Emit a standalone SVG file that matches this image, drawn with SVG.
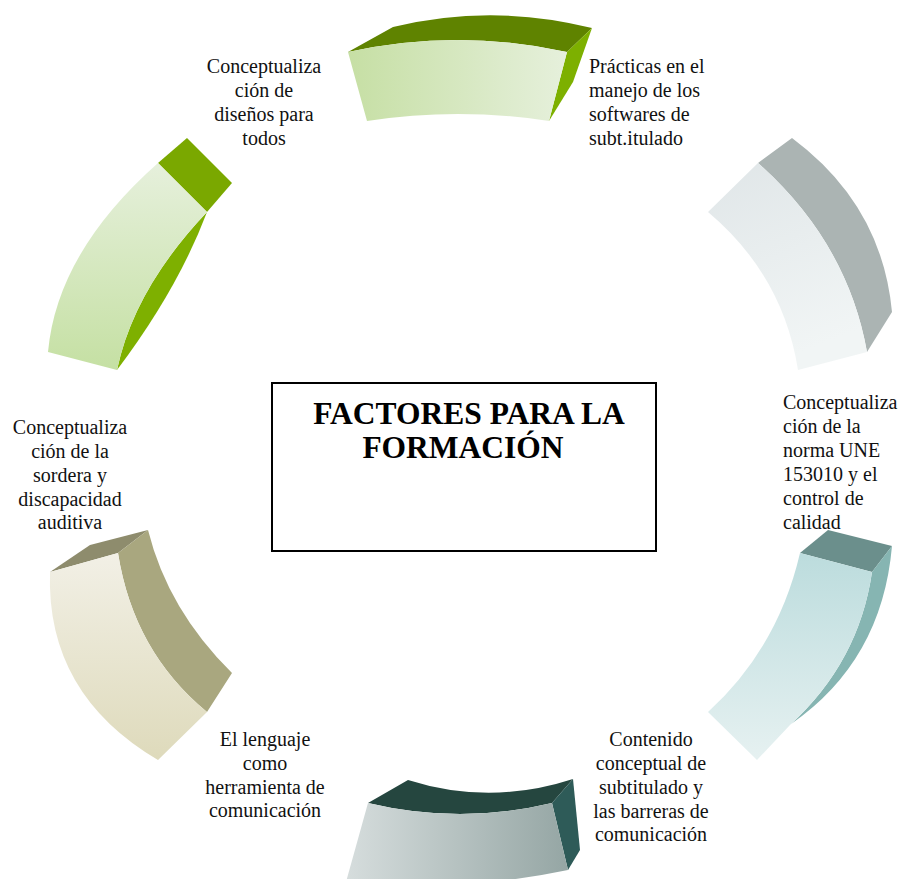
<svg xmlns="http://www.w3.org/2000/svg" width="903" height="879" viewBox="0 0 903 879">
<defs>
<style>
.lbl{font-family:"Liberation Serif","Times New Roman",serif;font-size:20px;fill:#111}
.c{text-anchor:middle}
.title{font-family:"Liberation Serif","Times New Roman",serif;font-size:31.5px;font-weight:bold;fill:#000;text-anchor:middle}
</style>
<linearGradient id="g1" x1="0" y1="0" x2="1" y2="0"><stop offset="0" stop-color="#c6dfa4"/><stop offset="1" stop-color="#e6f0dc"/></linearGradient>
<linearGradient id="g2" x1="0" y1="0" x2="0.3" y2="1"><stop offset="0" stop-color="#e0e6e8"/><stop offset="1" stop-color="#f1f5f5"/></linearGradient>
<linearGradient id="g3" x1="0" y1="0" x2="0" y2="1"><stop offset="0" stop-color="#bcdcdd"/><stop offset="1" stop-color="#e6f1f1"/></linearGradient>
<linearGradient id="g4" x1="0" y1="0" x2="1" y2="0"><stop offset="0" stop-color="#d6dddd"/><stop offset="1" stop-color="#95a6a4"/></linearGradient>
<linearGradient id="g5" x1="0" y1="0" x2="0" y2="1"><stop offset="0" stop-color="#f2f0e6"/><stop offset="1" stop-color="#dedabb"/></linearGradient>
<linearGradient id="g6" x1="0" y1="0" x2="0" y2="1"><stop offset="0" stop-color="#e6f0dc"/><stop offset="1" stop-color="#c5e0a3"/></linearGradient>
</defs>
<rect width="903" height="879" fill="#fff"/>

<g id="seg1">
<path d="M348,52 L393,27 Q492,3 592,28 L567,52 Q457,28 348,52 Z" fill="#5f8300"/>
<path d="M567,52 L592,28 L573,82 L549,121 Z" fill="#7db000"/>
<path d="M348,52 Q457,28 567,52 L549,121 Q458,107 367,121 Z" fill="url(#g1)"/>
</g>

<g id="seg2">
<path d="M758,163 L792,138 Q882,205 892,312 L867,352 Q847.5,242.5 758,163 Z" fill="#abb4b3"/>
<path d="M708,212 L758,163 Q847.5,242.5 867,352 L798,370 Q783,275 708,212 Z" fill="url(#g2)"/>
</g>

<g id="seg3">
<path d="M800,553 L828,530 L892,546 L872,572 Z" fill="#6b8f8c"/>
<path d="M872,572 L892,546 Q882,661 791,724 L790,725 Q859,662 872,572 Z" fill="#86b5b2"/>
<path d="M800,553 L872,572 Q859,662 790,725 L757,760 L708,712 Q778,648 800,553 Z" fill="url(#g3)"/>
</g>

<g id="seg4">
<path d="M368,803 L408,780 Q490,806 573,779 L552,803 Q460,825 368,803 Z" fill="#25463f"/>
<path d="M552,803 L573,779 L580,850 L568,870 Z" fill="#2e5b58"/>
<path d="M368,803 Q460,825 552,803 L568,870 Q458,893 346,882 Z" fill="url(#g4)"/>
</g>

<g id="seg5">
<path d="M50,572 L90,545 L148,530 L118,553 Z" fill="#8e8c6d"/>
<path d="M118,553 L148,530 Q168,610 232,673 L207,712 Q133.5,651.5 118,553 Z" fill="#a9a77f"/>
<path d="M50,572 L118,553 Q133.5,651.5 207,712 L158,760 Q46,694 50,572 Z" fill="url(#g5)"/>
</g>

<g id="seg6">
<path d="M158,163 L187,138 L232,183 L207,212 Z" fill="#7aa800"/>
<path d="M207,212 Q178,289 117,370 Q134,289 207,212 Z" fill="#7eb000"/>
<path d="M158,163 L207,212 Q134,289 117,370 L48,352 Q57,252.5 158,163 Z" fill="url(#g6)"/>
</g>

<g id="center">
<rect x="272" y="383" width="384" height="168" fill="#fff" stroke="#000" stroke-width="2"/>
<text class="title" x="469" y="424">FACTORES PARA LA</text>
<text class="title" x="463" y="458">FORMACIÓN</text>
</g>

<g id="label1">
<text class="lbl c" x="264" y="73">Conceptualiza</text>
<text class="lbl c" x="264" y="97">ción de</text>
<text class="lbl c" x="264" y="121">diseños para</text>
<text class="lbl c" x="264" y="145">todos</text>
</g>
<g id="label2">
<text class="lbl" x="589" y="73">Prácticas en el</text>
<text class="lbl" x="589" y="97">manejo de los</text>
<text class="lbl" x="589" y="121">softwares de</text>
<text class="lbl" x="589" y="145">subt.itulado</text>
</g>
<g id="label3">
<text class="lbl" x="783" y="409">Conceptualiza</text>
<text class="lbl" x="783" y="433">ción de la</text>
<text class="lbl" x="783" y="457">norma UNE</text>
<text class="lbl" x="783" y="481">153010 y el</text>
<text class="lbl" x="783" y="505">control de</text>
<text class="lbl" x="783" y="529">calidad</text>
</g>
<g id="label4">
<text class="lbl c" x="651" y="746">Contenido</text>
<text class="lbl c" x="651" y="770">conceptual de</text>
<text class="lbl c" x="651" y="794">subtitulado y</text>
<text class="lbl c" x="651" y="818">las barreras de</text>
<text class="lbl c" x="651" y="841">comunicación</text>
</g>
<g id="label5">
<text class="lbl c" x="265" y="746">El lenguaje</text>
<text class="lbl c" x="265" y="770">como</text>
<text class="lbl c" x="265" y="794">herramienta de</text>
<text class="lbl c" x="265" y="817">comunicación</text>
</g>
<g id="label6">
<text class="lbl c" x="70" y="434">Conceptualiza</text>
<text class="lbl c" x="70" y="458">ción de la</text>
<text class="lbl c" x="70" y="482">sordera y</text>
<text class="lbl c" x="70" y="506">discapacidad</text>
<text class="lbl c" x="70" y="529">auditiva</text>
</g>
</svg>
